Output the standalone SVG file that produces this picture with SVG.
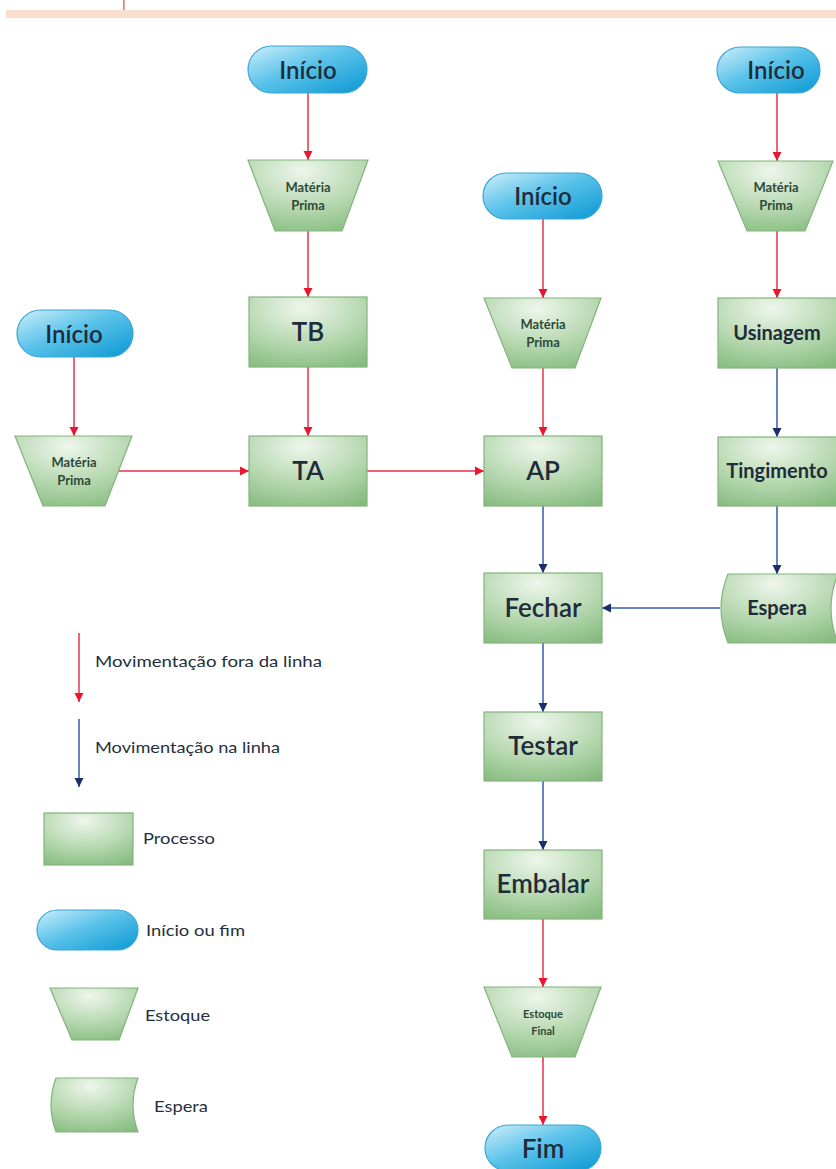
<svg xmlns="http://www.w3.org/2000/svg" width="836" height="1169" viewBox="0 0 836 1169">
<defs>
<radialGradient id="gGreen" cx="0.45" cy="0.15" r="0.95">
<stop offset="0" stop-color="#eef6ec"/>
<stop offset="0.55" stop-color="#b6d8b0"/>
<stop offset="1" stop-color="#86bb7f"/>
</radialGradient>
<linearGradient id="gBlue" x1="0" y1="0" x2="1" y2="1">
<stop offset="0" stop-color="#cdeefa"/>
<stop offset="0.45" stop-color="#5cc3ea"/>
<stop offset="1" stop-color="#0a98d2"/>
</linearGradient>
<marker id="arR" markerUnits="userSpaceOnUse" markerWidth="12" markerHeight="12" viewBox="0 0 12 12" refX="10" refY="6" orient="auto">
<path d="M1,1.5 L10,6 L1,10.5 Z" fill="#e8172f"/>
</marker>
<marker id="arB" markerUnits="userSpaceOnUse" markerWidth="12" markerHeight="12" viewBox="0 0 12 12" refX="10" refY="6" orient="auto">
<path d="M1,1.5 L10,6 L1,10.5 Z" fill="#1d2c6c"/>
</marker>
</defs>
<style>
.proc{fill:url(#gGreen);stroke:#84b37c;stroke-width:1.2}
.pill{fill:url(#gBlue);stroke:#3aa6d6;stroke-width:1.2}
.red{stroke:#ef6476;stroke-width:2;fill:none;marker-end:url(#arR)}
.blue{stroke:#6488bd;stroke-width:2;fill:none;marker-end:url(#arB)}
text{font-family:Lato,"Open Sans","Liberation Sans",sans-serif;fill:#1f2c3a;text-anchor:middle}
.big{font-size:24px;font-weight:600}
.box{font-size:26px;font-weight:600}
.mid{font-size:20px;font-weight:700}
.sm{font-size:13px;font-weight:700;fill:#2f4a3a}
.leg{font-size:15px;text-anchor:start;fill:#24303c}
</style>
<rect width="836" height="1169" fill="#ffffff"/>
<g id="header">
<rect x="6" y="10" width="830" height="8" fill="#fadfd1"/>
<rect x="123" y="0" width="1.6" height="10" fill="#e0805e"/>
</g>
<g id="connectors">
<line class="red" x1="308" y1="93" x2="308" y2="160"/>
<line class="red" x1="308" y1="231" x2="308" y2="297"/>
<line class="red" x1="308" y1="367" x2="308" y2="436"/>
<line class="red" x1="74" y1="357" x2="74" y2="436"/>
<line class="red" x1="118" y1="471" x2="249" y2="471"/>
<line class="red" x1="367" y1="471" x2="484" y2="471"/>
<line class="red" x1="543" y1="219" x2="543" y2="298"/>
<line class="red" x1="543" y1="368" x2="543" y2="436"/>
<line class="red" x1="777" y1="93" x2="777" y2="161"/>
<line class="red" x1="777" y1="231" x2="777" y2="298"/>
<line class="red" x1="543" y1="919" x2="543" y2="987"/>
<line class="red" x1="543" y1="1057" x2="543" y2="1125"/>
<line class="blue" x1="777" y1="368" x2="777" y2="437"/>
<line class="blue" x1="777" y1="506" x2="777" y2="574"/>
<line class="blue" x1="543" y1="506" x2="543" y2="573"/>
<line class="blue" x1="720" y1="608" x2="602" y2="608"/>
<line class="blue" x1="543" y1="643" x2="543" y2="712"/>
<line class="blue" x1="543" y1="781" x2="543" y2="850"/>
</g>
<g id="inicio1"><rect class="pill" x="248" y="46" width="119" height="47" rx="23.5"/><text class="big" x="308" y="79">Início</text></g>
<g id="mp1"><path class="proc" d="M248,160 L368,160 L342,231 L275,231 Z"/><text class="sm" x="308" y="192">Matéria</text><text class="sm" x="308" y="210">Prima</text></g>
<g id="tb"><rect class="proc" x="249" y="297" width="118" height="70"/><text class="box" x="308" y="341">TB</text></g>
<g id="ta"><rect class="proc" x="249" y="436" width="118" height="70"/><text class="box" x="308" y="480">TA</text></g>
<g id="inicio2"><rect class="pill" x="17" y="310" width="116" height="47" rx="23.5"/><text class="big" x="74" y="343">Início</text></g>
<g id="mp2"><path class="proc" d="M15,436 L132,436 L105,506 L43,506 Z"/><text class="sm" x="74" y="467">Matéria</text><text class="sm" x="74" y="485">Prima</text></g>
<g id="inicio3"><rect class="pill" x="483" y="173" width="119" height="46" rx="23"/><text class="big" x="543" y="205">Início</text></g>
<g id="mp3"><path class="proc" d="M484,298 L601,298 L575,368 L512,368 Z"/><text class="sm" x="543" y="329">Matéria</text><text class="sm" x="543" y="347">Prima</text></g>
<g id="ap"><rect class="proc" x="484" y="436" width="118" height="70"/><text class="box" x="543" y="480">AP</text></g>
<g id="fechar"><rect class="proc" x="484" y="573" width="118" height="70"/><text class="box" x="543" y="617">Fechar</text></g>
<g id="testar"><rect class="proc" x="484" y="712" width="118" height="69"/><text class="box" x="543" y="755">Testar</text></g>
<g id="embalar"><rect class="proc" x="484" y="850" width="118" height="69"/><text class="box" x="543" y="893">Embalar</text></g>
<g id="estoquefinal"><path class="proc" d="M484,987 L601,987 L575,1057 L512,1057 Z"/><text class="sm" x="543" y="1018" style="font-size:11px">Estoque</text><text class="sm" x="543" y="1035" style="font-size:11px">Final</text></g>
<g id="fim"><rect class="pill" x="485" y="1125" width="116" height="46" rx="23"/><text class="big" x="543" y="1158" style="font-size:26px">Fim</text></g>
<g id="inicio4"><rect class="pill" x="717" y="47" width="103" height="46" rx="23"/><text class="big" x="776" y="79">Início</text></g>
<g id="mp4"><path class="proc" d="M718,161 L833,161 L805,231 L747,231 Z"/><text class="sm" x="776" y="192">Matéria</text><text class="sm" x="776" y="210">Prima</text></g>
<g id="usinagem"><rect class="proc" x="718" y="298" width="120" height="70"/><text class="mid" x="777" y="340">Usinagem</text></g>
<g id="tingimento"><rect class="proc" x="718" y="437" width="120" height="69"/><text class="mid" x="777" y="478">Tingimento</text></g>
<g id="espera"><path class="proc" d="M728,574 L838,574 Q824,608 838,643 L728,643 Q714,608 728,574 Z"/><text class="mid" x="777" y="615">Espera</text></g>
<g id="legend">
<line class="red" x1="79" y1="633" x2="79" y2="702"/>
<text class="leg" x="95" y="667" textLength="227" lengthAdjust="spacingAndGlyphs">Movimentação fora da linha</text>
<line class="blue" x1="79" y1="719" x2="79" y2="787"/>
<text class="leg" x="95" y="753" textLength="185" lengthAdjust="spacingAndGlyphs">Movimentação na linha</text>
<rect class="proc" x="44" y="813" width="89" height="52"/>
<text class="leg" x="143" y="844" textLength="72" lengthAdjust="spacingAndGlyphs">Processo</text>
<rect class="pill" x="37" y="910" width="101" height="40" rx="20"/>
<text class="leg" x="146" y="936" textLength="99" lengthAdjust="spacingAndGlyphs">Início ou fim</text>
<path class="proc" d="M50,988 L138,988 L119,1040 L72,1040 Z"/>
<text class="leg" x="145" y="1021" textLength="65" lengthAdjust="spacingAndGlyphs">Estoque</text>
<path class="proc" d="M56,1078 L138,1078 Q128,1105 138,1132 L56,1132 Q46,1105 56,1078 Z"/>
<text class="leg" x="154" y="1112" textLength="54" lengthAdjust="spacingAndGlyphs">Espera</text>
</g>
</svg>
